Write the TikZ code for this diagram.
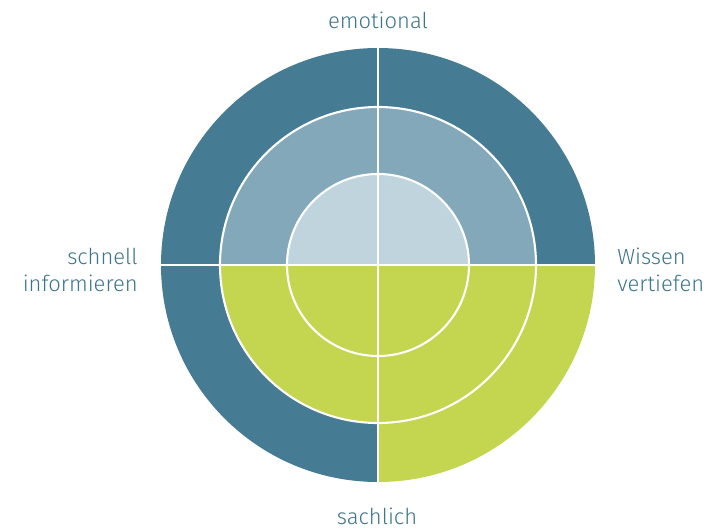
\documentclass[tikz,border=0pt]{standalone}
\usepackage{fontspec}
\setmainfont{Fira Sans}[UprightFont=* Light]
\usepackage{xcolor}
\usetikzlibrary{positioning}

\definecolor{ringdark}{HTML}{457B93}
\definecolor{ringmid}{HTML}{83A8BA}
\definecolor{ringlight}{HTML}{BFD4DD}
\definecolor{ringgreen}{HTML}{C4D54F}
\definecolor{labeltext}{HTML}{3D7589}

\begin{document}
\begin{tikzpicture}[
		x=0.02cm, y=0.02cm,
		% quadrant pieces and labels
		sector/.style={draw=none},
		divider/.style={draw=white, line width=1.2pt},
		axislabel/.style={font=\fontsize{12.5}{15.5}\selectfont, text=labeltext, inner sep=0pt},
		]
		\useasboundingbox (-378,-263) rectangle (338,265);
		\coordinate (centre) at (0,0);

		% Pie pieces, outer ring first (radius, start angle, colour)
		\foreach \r/\a/\c in {217/0/ringdark, 217/90/ringdark, 217/180/ringdark, 217/270/ringgreen,
			158/0/ringmid, 158/90/ringmid, 158/180/ringgreen, 158/270/ringgreen,
			91/0/ringlight, 91/90/ringlight, 91/180/ringgreen, 91/270/ringgreen}
			\fill[sector, fill=\c] (centre) -- ++(\a:\r) arc[start angle=\a, end angle=\a+90, radius=\r] -- cycle;

		% White rings and cross
		\draw[divider] (centre) circle[radius=158];
		\draw[divider] (centre) circle[radius=91];
		\coordinate (top) at (0,217);
		\coordinate (bottom) at (0,-217);
		\coordinate (left) at (-217,0);
		\coordinate (right) at (217,0);
		\draw[divider] (top) -- (bottom);
		\draw[divider] (left) -- (right);

		% Axis labels
		\node[axislabel, anchor=base] (emotional) at (0,236) {emotional};
		\node[axislabel, anchor=base] (sachlich) at (-1,-259) {sachlich};
		\node[axislabel, anchor=east, align=right] (schnell) at (-240,-5) {schnell\\informieren};
		\node[axislabel, anchor=west, align=left] (wissen) at (239,-5) {Wissen\\vertiefen};

	\end{tikzpicture}
\end{document}
